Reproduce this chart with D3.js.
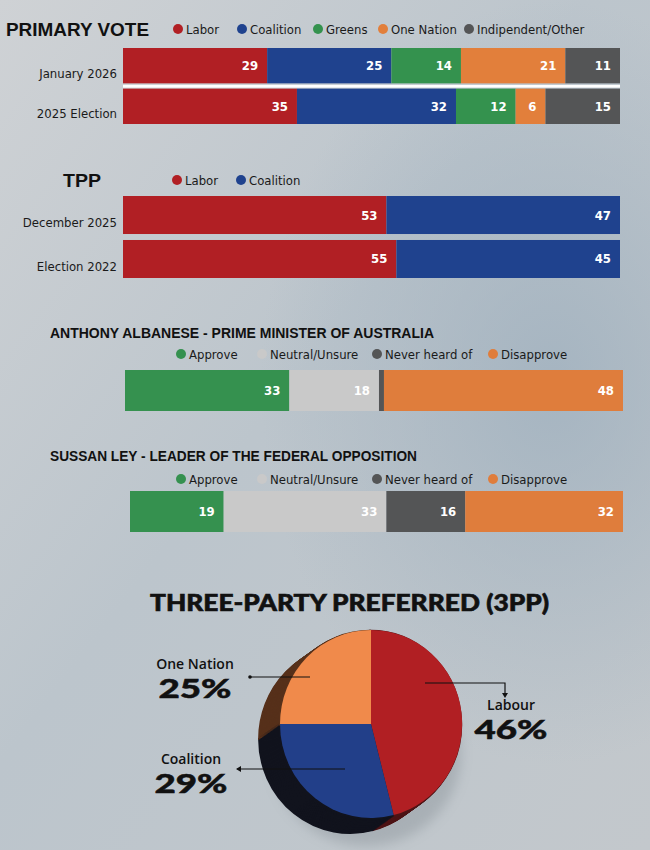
<!DOCTYPE html>
<html>
<head>
<meta charset="utf-8">
<script src="https://cdn.jsdelivr.net/npm/d3@7"></script>
<style>
  html, body { margin: 0; padding: 0; background: #c4cacf; }
  svg { display: block; }
</style>
</head>
<body>
<div id="vizcontainer"></div>
<script>
const
  width = 650,
  height = 850
  ;

// primary vote
const primaryRows = ["January 2026", "2025 Election"];
const primaryKeys = ["Labor", "Coalition", "Greens", "One Nation", "Indipendent/Other"];
const primaryJan = [29, 25, 14, 21, 11];
const primaryElection = [35, 32, 12, 6, 15];

// two party preferred
const tppRows = ["December 2025", "Election 2022"];
const tppKeys = ["Labor", "Coalition"];
const tppDec = [53, 47];
const tppElection = [55, 45];

// leader approval
const approvalKeys = ["Approve", "Neutral/Unsure", "Never heard of", "Disapprove"];
const albanese = [33, 18, 1, 48];
const ley = [19, 33, 16, 32];

// three party preferred
const pieKeys = ["Labour", "Coalition", "One Nation"];
const pieValues = [46, 29, 25];

const partyColor = d3.scaleOrdinal()
  .domain(["Labor", "Coalition", "Greens", "One Nation", "Indipendent/Other"])
  .range(["#b11f24", "#1f428e", "#34924e", "#e27f3b", "#545556"]);
const approvalColor = d3.scaleOrdinal()
  .domain(approvalKeys)
  .range(["#35914f", "#c9c9c9", "#545556", "#df7d3c"]);

const condensed = "'Liberation Sans Narrow', 'DejaVu Sans Condensed', 'Roboto', sans-serif";
const heavy = "'Lato', 'Open Sans', 'DejaVu Sans', sans-serif";

let viz = d3.select('#vizcontainer')
  .append('svg')
  .attr('width', width)
  .attr('height', height);

// background
let defs = viz.append('defs');
let bg = defs.append('linearGradient').attr('id', 'bg')
  .attr('x1', 0).attr('y1', 0).attr('x2', 1).attr('y2', 1);
bg.append('stop').attr('offset', '0%').attr('stop-color', '#cfd2d5');
bg.append('stop').attr('offset', '45%').attr('stop-color', '#bcc5cc');
bg.append('stop').attr('offset', '100%').attr('stop-color', '#c3c8cc');
let glow = defs.append('radialGradient').attr('id', 'glow')
  .attr('cx', 0.85).attr('cy', 0.45).attr('r', 0.45);
glow.append('stop').attr('offset', '0%').attr('stop-color', '#9fb0be').attr('stop-opacity', 0.8);
glow.append('stop').attr('offset', '100%').attr('stop-color', '#9fb0be').attr('stop-opacity', 0);
let shadowBlur = defs.append('filter').attr('id', 'blur').attr('x', '-50%').attr('y', '-50%').attr('width', '200%').attr('height', '200%');
shadowBlur.append('feGaussianBlur').attr('stdDeviation', 6);

viz.append('rect').attr('width', width).attr('height', height).attr('fill', 'url(#bg)');
viz.append('rect').attr('width', width).attr('height', height).attr('fill', 'url(#glow)');

function title(txt, x, y, size, len) {
  viz.append('text')
    .attr('x', x).attr('y', y)
    .attr('font-family', "'Liberation Sans', 'DejaVu Sans', sans-serif")
    .attr('font-weight', 'bold')
    .attr('font-size', size)
    .attr('fill', '#111')
    .attr('textLength', len)
    .attr('lengthAdjust', 'spacingAndGlyphs')
    .text(txt);
}

function legend(keys, color, xs, y) {
  let g = viz.append('g').attr('font-family', condensed).attr('font-size', 13);
  keys.forEach((k, i) => {
    g.append('circle').attr('cx', xs[i]).attr('cy', y).attr('r', 5).attr('fill', color(k));
    g.append('text').attr('x', xs[i] + 8).attr('y', y + 4.5).attr('fill', '#1a1a1a').text(k);
  });
}

// stacked horizontal bars
function stackedBars(rows, keys, values, color, x0, x1, y0, y1, pad, opts) {
  let xScale = d3.scaleLinear().domain([0, 100]).range([x0, x1]);
  let yScale = d3.scaleBand().domain(rows).range([y0, y1]).paddingInner(pad);
  let table = rows.map((r, i) => {
    let o = { row: r };
    keys.forEach((k, j) => o[k] = values[i][j]);
    return o;
  });
  let series = d3.stack().keys(keys)(table);
  let g = viz.append('g');
  series.forEach(s => {
    g.selectAll(null)
      .data(s)
      .join('rect')
      .attr('x', d => xScale(d[0]))
      .attr('y', d => yScale(d.data.row))
      .attr('width', d => xScale(d[1]) - xScale(d[0]))
      .attr('height', yScale.bandwidth())
      .attr('fill', color(s.key));
    g.selectAll(null)
      .data(s.filter(d => d[1] - d[0] >= 3))
      .join('text')
      .attr('x', d => xScale(d[1]) - 9)
      .attr('y', d => yScale(d.data.row) + yScale.bandwidth() / 2 + 4.5)
      .attr('text-anchor', 'end')
      .attr('font-family', condensed)
      .attr('font-weight', 'bold')
      .attr('font-size', 13)
      .attr('fill', '#fff')
      .text(d => d[1] - d[0]);
  });
  if (opts && opts.rowLabels) {
    // labels sit a little below the bar middle in the original
    g.selectAll(null)
      .data(rows)
      .join('text')
      .attr('x', x0 - 6)
      .attr('y', d => yScale(d) + yScale.bandwidth() / 2 + 12)
      .attr('text-anchor', 'end')
      .attr('font-family', condensed)
      .attr('font-size', 13)
      .attr('fill', '#1a1a1a')
      .text(d => d);
  }
  if (opts && opts.separator) {
    let a = yScale(rows[0]) + yScale.bandwidth();
    let b = yScale(rows[1]);
    g.append('rect')
      .attr('x', x0).attr('width', x1 - x0)
      .attr('y', a + 1.5).attr('height', b - a - 2.5)
      .attr('fill', '#fff');
  }
}

// PRIMARY VOTE
title('PRIMARY VOTE', 6, 36, 19, 143);
legend(primaryKeys, partyColor, [178, 242, 318, 383, 469], 29);
stackedBars(primaryRows, primaryKeys, [primaryJan, primaryElection], partyColor,
  123, 620, 48, 124, 0.13, { rowLabels: true, separator: true });

// TPP
title('TPP', 63, 187, 19, 38);
legend(tppKeys, partyColor, [177, 241], 180);
stackedBars(tppRows, tppKeys, [tppDec, tppElection], partyColor,
  123, 620, 196, 278, 0.136, { rowLabels: true });

// leaders
title('ANTHONY ALBANESE - PRIME MINISTER OF AUSTRALIA', 50, 338, 14, 384);
legend(approvalKeys, approvalColor, [181, 262, 377, 493], 354);
stackedBars(['Albanese'], approvalKeys, [albanese], approvalColor, 125, 623, 370, 411, 0, {});

title('SUSSAN LEY - LEADER OF THE FEDERAL OPPOSITION', 50, 461, 14, 367);
legend(approvalKeys, approvalColor, [181, 262, 377, 493], 479);
stackedBars(['Ley'], approvalKeys, [ley], approvalColor, 130, 623, 491, 532, 0, {});

// THREE-PARTY PREFERRED
viz.append('text')
  .attr('x', 150).attr('y', 611)
  .attr('font-family', heavy)
  .attr('font-weight', 900)
  .attr('font-size', 22)
  .attr('fill', '#111')
  .attr('stroke', '#111')
  .attr('stroke-width', 0.6)
  .attr('textLength', 399)
  .attr('lengthAdjust', 'spacingAndGlyphs')
  .text('THREE-PARTY PREFERRED (3PP)');

const pieTop = { Labour: '#b11f23', Coalition: '#223f89', 'One Nation': '#f08a4b' };
const pieSide = { Labour: '#4e1416', Coalition: '#11131d', 'One Nation': '#56301a' };
const cx = 371, cy = 724, rx = 91, ry = 94;
const depth = { dx: -21, dy: 15, n: 22 };

let arcs = d3.pie().sort(null)(pieValues).map((a, i) => Object.assign(a, { key: pieKeys[i] }));
let arc = d3.arc().innerRadius(0).outerRadius(1);

// soft shadow under the disk
viz.append('ellipse')
  .attr('cx', cx - 5).attr('cy', cy + 30)
  .attr('rx', 95).attr('ry', 92)
  .attr('fill', '#7d858c').attr('opacity', 0.35)
  .attr('filter', 'url(#blur)');

let pie = viz.append('g');
d3.range(depth.n, 0, -1).forEach(k => {
  let t = k / depth.n;
  pie.append('g')
    .attr('transform', `translate(${cx + depth.dx * t},${cy + depth.dy * t}) scale(${rx},${ry})`)
    .selectAll('path')
    .data(arcs)
    .join('path')
    .attr('d', arc)
    .attr('fill', d => pieSide[d.key])
    .attr('stroke', d => pieSide[d.key])
    .attr('stroke-width', 0.02);
});
pie.append('g')
  .attr('transform', `translate(${cx},${cy}) scale(${rx},${ry})`)
  .selectAll('path')
  .data(arcs)
  .join('path')
  .attr('d', arc)
  .attr('fill', d => pieTop[d.key]);

// leaders and labels
let lines = viz.append('g').attr('stroke', '#111').attr('stroke-width', 1.2).attr('fill', 'none');
lines.append('path').attr('d', 'M250,677 H310');
lines.append('path').attr('d', 'M425,683 H505 V695');
lines.append('path').attr('d', 'M237,769 H345');
viz.append('circle').attr('cx', 250).attr('cy', 677).attr('r', 1.8).attr('fill', '#111');
viz.append('path').attr('d', 'M502,693 L505,698 L508,693 Z').attr('fill', '#111');
viz.append('path').attr('d', 'M236,769 L241,766 L241,772 Z').attr('fill', '#111');

function pieLabel(name, val, x, y, gap) {
  let g = viz.append('g').attr('text-anchor', 'middle').attr('fill', '#111');
  g.append('text').attr('x', x).attr('y', y)
    .attr('font-family', "'Open Sans', 'DejaVu Sans', sans-serif")
    .attr('font-weight', 600)
    .attr('font-size', 14)
    .text(name);
  g.append('text').attr('x', x).attr('y', y + gap)
    .attr('font-family', heavy)
    .attr('font-weight', 900)
    .attr('font-size', 27)
    .attr('stroke', '#111')
    .attr('stroke-width', 0.5)
    .attr('textLength', 73)
    .attr('lengthAdjust', 'spacingAndGlyphs')
    .text(val + '%');
}
pieLabel(pieKeys[2], pieValues[2], 195, 669, 29);
pieLabel(pieKeys[0], pieValues[0], 511, 710, 29);
pieLabel(pieKeys[1], pieValues[1], 191, 764, 29);
</script>
</body>
</html>
